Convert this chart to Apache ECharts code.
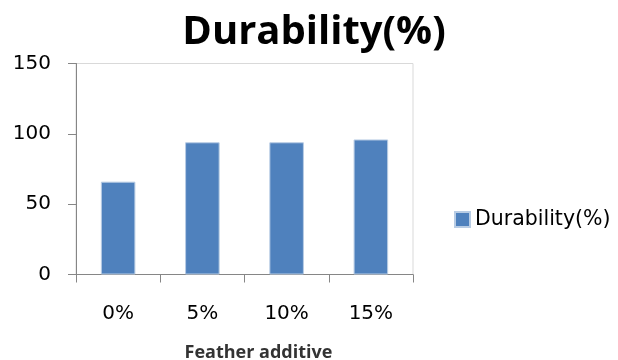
<!DOCTYPE html>
<html><head><meta charset="utf-8">
<script src="https://cdn.jsdelivr.net/npm/echarts@6/dist/echarts.min.js"></script>
<style>html,body{margin:0;padding:0;background:#fff}#c{width:618px;height:360px}</style>
</head><body><div id="c"></div>
<script>
var categories = ['0%', '5%', '10%', '15%'];
var durability = [66, 94, 94, 96];
var yTicks = [0, 50, 100, 150];
var titleText = 'Durability(%)';
var seriesName = 'Durability(%)';
var xAxisTitle = 'Feather additive';

var chart = echarts.init(document.getElementById('c'), null, {renderer: 'canvas'});
var font = '"DejaVu Sans", sans-serif';
var titleFont = '"Open Sans", sans-serif';
chart.setOption({
  animation: false,
  backgroundColor: '#fff',
  title: {
    text: titleText, left: 309, top: 8, textAlign: 'center',
    textStyle: {fontFamily: titleFont, fontSize: 40, fontWeight: 'bold', color: '#000'}
  },
  legend: {
    data: [seriesName], left: 449, top: 204, itemWidth: 15, itemHeight: 15,
    icon: 'rect',
    textStyle: {fontFamily: font, fontSize: 20.5, color: '#000'}
  },
  grid: {left: 76, right: 205, top: 63.5, bottom: 85.5, show: true, borderColor: '#d9d9d9', borderWidth: 1,
         containLabel: false, outerBoundsMode: 'none'},
  xAxis: {
    type: 'category', data: categories,
    name: xAxisTitle, nameLocation: 'middle', nameGap: 69,
    nameTextStyle: {fontFamily: titleFont, fontSize: 18, fontWeight: 'bold', color: '#333', padding: [0, 0, 0, 28]},
    axisLine: {lineStyle: {color: '#868686', width: 1}},
    axisTick: {show: true, length: 8, lineStyle: {color: '#868686'}},
    axisLabel: {fontFamily: font, fontSize: 20, color: '#000', margin: 29}
  },
  yAxis: {
    type: 'value', min: yTicks[0], max: yTicks[yTicks.length - 1], interval: 50,
    axisLine: {show: true, lineStyle: {color: '#868686', width: 1}},
    axisTick: {show: true, length: 8, lineStyle: {color: '#868686'}},
    splitLine: {show: false},
    axisLabel: {fontFamily: font, fontSize: 20, color: '#000', margin: 25}
  },
  series: [{
    name: seriesName, type: 'bar', data: durability, barWidth: '41%',
    itemStyle: {color: '#4F81BD', borderColor: '#b8cce4', borderWidth: 1}
  }]
});
</script></body></html>
